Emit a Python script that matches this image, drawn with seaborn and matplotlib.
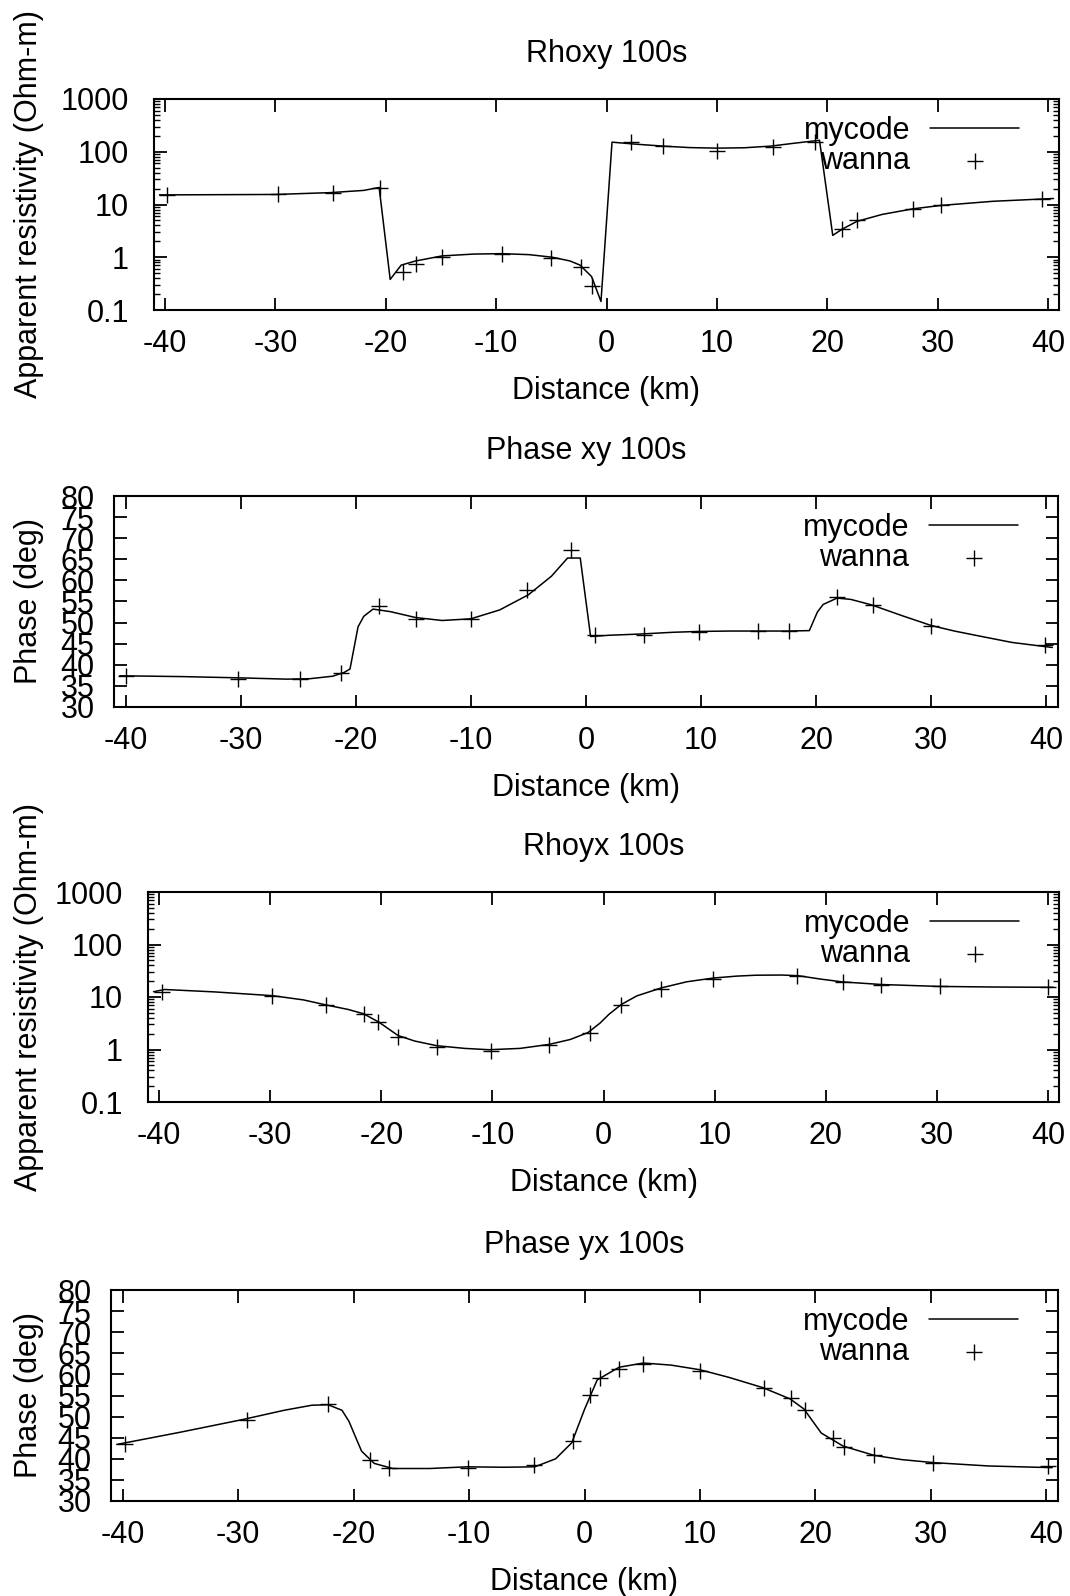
import numpy as np
import pandas as pd
import matplotlib
matplotlib.use("Agg")
import matplotlib.pyplot as plt
import seaborn as sns
from matplotlib.ticker import FixedLocator, FixedFormatter, LogLocator, NullFormatter

# ---------------- data ----------------
titles = ["Rhoxy 100s", "Phase xy 100s", "Rhoyx 100s", "Phase yx 100s"]
ylabels = ["Apparent resistivity (Ohm-m)", "Phase (deg)",
           "Apparent resistivity (Ohm-m)", "Phase (deg)"]
xlabel = "Distance (km)"
legend_labels = ["mycode", "wanna"]

x_ticks = [-40, -30, -20, -10, 0, 10, 20, 30, 40]
x_ticklabels = ["-40", "-30", "-20", "-10", "0", "10", "20", "30", "40"]
rho_ticks = [0.1, 1, 10, 100, 1000]
rho_ticklabels = ["0.1", "1", "10", "100", "1000"]
phase_ticks = [30, 35, 40, 45, 50, 55, 60, 65, 70, 75, 80]
phase_ticklabels = ["30", "35", "40", "45", "50", "55", "60", "65", "70", "75", "80"]

# Rhoxy
rhoxy_line_x = [-40.5, -30, -25, -22, -20.6, -19.6, -18.6, -17.3, -14.9, -12, -9.5, -7,
                -4.9, -3.3, -2.4, -1.35, -0.5, 0.5, 2.5, 5.1, 7.5, 10, 12.5, 14.9, 17,
                19.3, 20.5, 21.35, 22.7, 25, 27.8, 30.3, 35, 40.5]
rhoxy_line_y = [15.2, 15.5, 16.8, 18.5, 21, 0.38, 0.71, 0.85, 1.06, 1.15, 1.17, 1.12,
                1.0, 0.85, 0.71, 0.43, 0.145, 152, 140, 128, 120, 117, 119, 128, 145,
                165, 2.6, 3.4, 4.8, 6.5, 8.3, 9.6, 11.5, 13]
rhoxy_obs_x = [-39.8, -29.8, -24.8, -20.5, -18.4, -17.3, -14.9, -9.5, -5.0, -2.3, -1.35,
               2.2, 5.1, 10.0, 15.1, 18.9, 21.35, 22.7, 27.8, 30.3, 39.5]
rhoxy_obs_y = [15.3, 16, 16.8, 21, 0.53, 0.76, 1.03, 1.14, 0.96, 0.66, 0.28,
               152, 126, 102, 122, 156, 3.4, 5.0, 8.3, 9.6, 12.6]

# Phase xy
phxy_line_x = [-40.5, -35, -30, -26, -24, -22, -21, -20.5, -19.8, -19.3, -18.5, -17,
               -14.8, -12.5, -10, -7.5, -5, -3, -1.6, -0.5, 0.4, 2, 4.8, 7.5, 9.7, 12.5,
               15, 17.5, 19.4, 20.1, 20.6, 21.8, 23, 24.8, 27.5, 30, 32, 34.2, 37, 40.5]
phxy_line_y = [37.4, 37.2, 36.9, 36.6, 36.7, 37.3, 38.2, 39.0, 49.0, 51.5, 53.2, 52.6,
               51.2, 50.5, 50.9, 53.0, 56.6, 61.0, 65.3, 65.3, 46.7, 47.0, 47.3, 47.7,
               47.9, 48.0, 48.0, 48.0, 48.1, 52.5, 54.3, 55.8, 55.5, 54.2, 51.6, 49.3,
               48.0, 46.8, 45.3, 44.1]
phxy_obs_x = [-40, -30.2, -24.8, -21.25, -18.0, -14.8, -10, -5.1, -1.3, 0.8, 5.0, 9.8,
              14.9, 17.6, 21.8, 24.9, 30.0, 39.9]
phxy_obs_y = [37.4, 36.6, 36.7, 38.0, 54.0, 50.8, 50.9, 57.8, 67.2, 47.0, 47.1, 47.7,
              48.1, 47.9, 56.0, 54.2, 49.2, 44.7]

# Rhoyx
rhoyx_line_x = [-40.5, -39.5, -35, -29.8, -27, -24.9, -23, -21.6, -20.2, -18.5, -17, -15,
                -12.5, -10.3, -7.5, -4.9, -3, -1.4, -0.3, 0.5, 1.6, 3, 5.2, 7.5, 9.9, 12,
                13.7, 16, 17.5, 19.5, 21.5, 25, 30.2, 35, 40.5]
rhoyx_line_y = [12.6, 13.9, 12.5, 10.6, 8.8, 7.0, 5.8, 4.8, 3.3, 1.85, 1.45, 1.18,
                1.05, 0.99, 1.05, 1.25, 1.55, 2.1, 3.2, 4.7, 7.2, 10.5, 14.9, 19.5, 23,
                25, 26, 26.2, 25.5, 22, 19.4, 17.3, 15.9, 15.5, 15.3]
rhoyx_obs_x = [-39.7, -29.8, -25.0, -21.6, -20.3, -18.5, -15.0, -10.1, -4.9, -1.2, 1.6,
               5.2, 9.9, 17.4, 21.6, 25.0, 30.3, 40]
rhoyx_obs_y = [12.6, 10.4, 6.9, 4.8, 3.3, 1.76, 1.13, 0.95, 1.23, 2.05, 7.0,
               14.0, 22.5, 25.5, 19.4, 17.3, 16.0, 15.3]

# Phase yx
phyx_line_x = [-40.5, -35, -29.6, -26, -23.6, -22.2, -21, -20.4, -19.8, -19.3, -18.2,
               -16.6, -13.4, -10.2, -7, -4.3, -2.5, -1.1, 0, 1.1, 3.0, 5.1, 7.5, 10,
               12.5, 15.4, 17.8, 19, 20.5, 22.4, 25.1, 27.5, 30.2, 35, 40.5]
phyx_line_y = [43.4, 46.3, 49.3, 51.5, 52.7, 52.8, 51.5, 48.9, 45.0, 41.8, 38.9,
               37.7, 37.7, 38.1, 38.0, 38.1, 40.0, 43.8, 51.7, 58.7, 61.7, 62.7, 62.2,
               61.1, 59.3, 56.9, 54.2, 51.8, 46.1, 43.0, 40.8, 39.8, 39.1, 38.3, 37.9]
phyx_obs_x = [-39.8, -29.2, -22.2, -18.6, -16.9, -10.1, -4.4, -1.0, 0.5, 1.3, 3.0, 5.1,
              10.0, 15.5, 17.9, 19.1, 21.5, 22.5, 25.1, 30.2, 40.1]
phyx_obs_y = [43.6, 49.3, 53.0, 39.8, 37.9, 37.9, 38.5, 44.2, 55.2, 59.1, 61.3, 62.5,
              60.7, 56.8, 54.4, 51.5, 45.0, 42.8, 40.8, 39.1, 38.3]

panels = [
    (rhoxy_line_x, rhoxy_line_y, rhoxy_obs_x, rhoxy_obs_y, "log"),
    (phxy_line_x, phxy_line_y, phxy_obs_x, phxy_obs_y, "lin"),
    (rhoyx_line_x, rhoyx_line_y, rhoyx_obs_x, rhoyx_obs_y, "log"),
    (phyx_line_x, phyx_line_y, phyx_obs_x, phyx_obs_y, "lin"),
]

# ---------------- layout (pixels) ----------------
W, H = 1070, 1596
boxes = [(154, 99, 1059, 310), (114, 496, 1058, 707),
         (148, 892, 1059, 1102), (111, 1290, 1058, 1501)]

sns.set_style("ticks")
plt.rcParams["font.family"] = ["Liberation Sans", "DejaVu Sans"]
plt.rcParams["axes.unicode_minus"] = False
for key in ["text.color", "axes.labelcolor", "xtick.color", "ytick.color",
            "xtick.labelcolor", "ytick.labelcolor", "axes.edgecolor"]:
    plt.rcParams[key] = "black"
FS = 22

fig = plt.figure(figsize=(W / 100, H / 100), dpi=100)

for i, (lx, ly, ox, oy, kind) in enumerate(panels):
    l, t, r, b = boxes[i]
    wpx, hpx = r - l, b - t
    ax = fig.add_axes([l / W, 1 - b / H, wpx / W, hpx / H])
    line_df = pd.DataFrame({"x": lx, "y": ly})
    obs_df = pd.DataFrame({"x": ox, "y": oy})
    sns.lineplot(data=line_df, x="x", y="y", sort=False, estimator=None,
                 color="black", linewidth=1.1, ax=ax, label=legend_labels[0], legend=False)
    sns.scatterplot(data=obs_df, x="x", y="y", marker="+", s=120, color="black",
                    linewidth=1.0, ax=ax, label=legend_labels[1], legend=False)

    ax.set_xlim(-41, 41)
    ax.xaxis.set_major_locator(FixedLocator(x_ticks))
    ax.xaxis.set_major_formatter(FixedFormatter(x_ticklabels))
    if kind == "log":
        ax.set_yscale("log")
        ax.set_ylim(0.1, 1000)
        ax.yaxis.set_major_locator(FixedLocator(rho_ticks))
        ax.yaxis.set_major_formatter(FixedFormatter(rho_ticklabels))
        ax.yaxis.set_minor_locator(LogLocator(base=10, subs=np.arange(2, 10)))
        ax.yaxis.set_minor_formatter(NullFormatter())
        ypad = 18
    else:
        ax.set_ylim(30, 80)
        ax.yaxis.set_major_locator(FixedLocator(phase_ticks))
        ax.yaxis.set_major_formatter(FixedFormatter(phase_ticklabels))
        ypad = 14

    for s in ax.spines.values():
        s.set_visible(True)
        s.set_linewidth(1.5)
        s.set_color("black")
    ax.tick_params(which="major", direction="in", top=True, right=True,
                   length=9, width=1.3, labelsize=FS, colors="black")
    ax.tick_params(which="minor", direction="in", left=True, right=True,
                   length=4.5, width=1.0, colors="black")
    ax.tick_params(axis="x", which="major", pad=14)
    ax.tick_params(axis="y", which="major", pad=ypad)

    ax.set_title(titles[i], fontsize=FS, y=1 + 45 / hpx, va="center", pad=0,
                 color="black")
    ax.set_xlabel(xlabel, fontsize=FS)
    ax.xaxis.set_label_coords(0.5, -81 / hpx)
    ax.xaxis.label.set_va("center")
    ax.set_ylabel(ylabels[i], fontsize=FS)
    ax.yaxis.set_label_coords((29 - l) / wpx, 0.5)
    ax.yaxis.label.set_va("center")

    handles, labels = ax.get_legend_handles_labels()
    hmap = dict(zip(labels, handles))
    ax.legend([hmap[k] for k in legend_labels], legend_labels,
              loc="upper right", bbox_to_anchor=(1 - 40 / wpx, 1 - 17 / hpx),
              borderaxespad=0, borderpad=0, frameon=False, markerfirst=False,
              handlelength=2.9, handletextpad=0.65, labelspacing=0.0,
              scatterpoints=1, fontsize=FS)

fig.savefig("out.png", dpi=100, facecolor="white")
